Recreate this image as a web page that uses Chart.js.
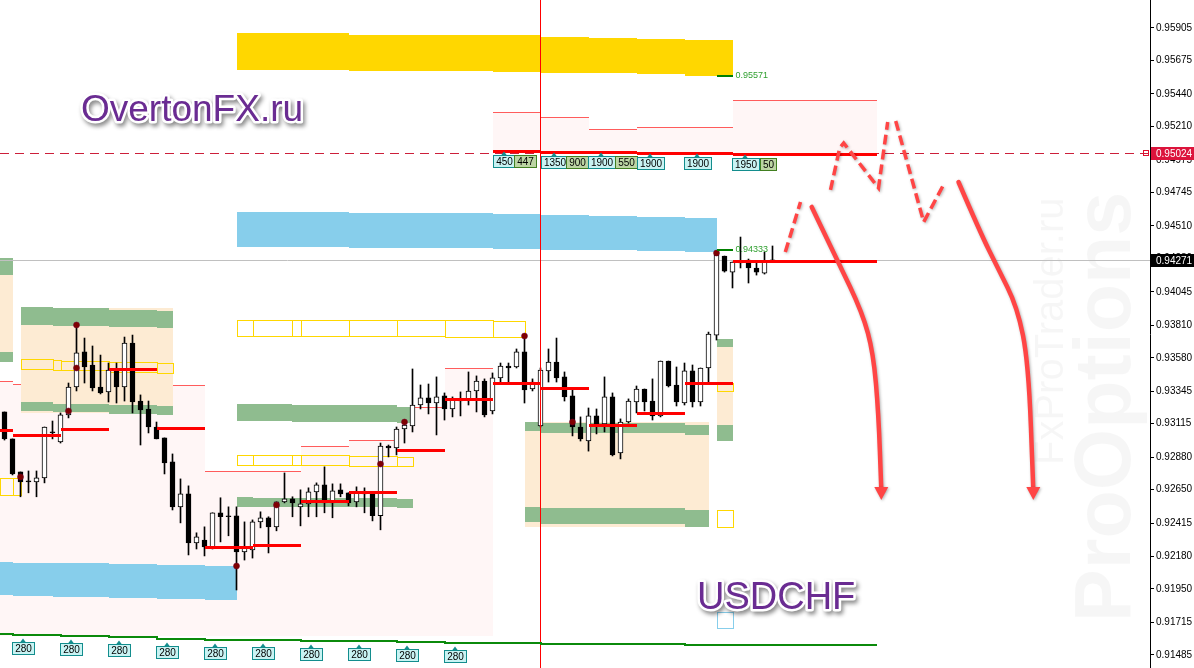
<!DOCTYPE html>
<html>
<head>
<meta charset="utf-8">
<script src="https://cdn.jsdelivr.net/npm/chart.js@4.4.1/dist/chart.umd.min.js"></script>
<style>
  html, body { margin: 0; padding: 0; background: #fff; }
  canvas { display: block; }
</style>
</head>
<body>
<canvas id="usdchf" width="1194" height="668"></canvas>
<script>
// Свечи USDCHF (open / high / low / close), индекс = номер бара
const candleOpen = [0.93198,0.93008,0.92775,0.92712,0.92705,0.92733,0.93057,0.92986,0.93177,0.93374,0.93621,0.93529,0.93374,0.93339,0.93494,0.93374,0.93684,0.93275,0.93219,0.93092,0.93015,0.92846,0.92529,0.92621,0.92274,0.92295,0.92239,0.92487,0.92466,0.92466,0.92211,0.92225,0.92423,0.92452,0.92388,0.92564,0.92586,0.92529,0.92550,0.92635,0.92684,0.92557,0.92649,0.92628,0.92564,0.92621,0.92628,0.92466,0.92958,0.92944,0.93078,0.93099,0.93247,0.93297,0.93261,0.93311,0.93219,0.93275,0.93282,0.93346,0.93416,0.93205,0.93438,0.93522,0.93515,0.93621,0.93360,0.93099,0.93487,0.93550,0.93445,0.93311,0.93092,0.92993,0.93170,0.93113,0.93304,0.92909,0.93127,0.93268,0.93360,0.93275,0.93170,0.93557,0.93388,0.93261,0.93487,0.93268,0.93508,0.93740,0.94297,0.94184,0.94255,0.94269,0.94213,0.94177,0.94255];
const candleHigh = [0.93198,0.93008,0.92775,0.92782,0.92782,0.93092,0.93134,0.93191,0.93402,0.93811,0.93719,0.93663,0.93599,0.93543,0.93543,0.93726,0.93740,0.93318,0.93275,0.93127,0.93015,0.92902,0.92726,0.92677,0.92346,0.92388,0.92487,0.92593,0.92529,0.92529,0.92423,0.92437,0.92494,0.92459,0.92564,0.92768,0.92600,0.92649,0.92663,0.92698,0.92811,0.92691,0.92691,0.92628,0.92670,0.92663,0.92628,0.92979,0.92965,0.93092,0.93141,0.93501,0.93388,0.93395,0.93445,0.93332,0.93304,0.93339,0.93480,0.93452,0.93431,0.93473,0.93543,0.93543,0.93642,0.93733,0.93431,0.93508,0.93642,0.93719,0.93480,0.93367,0.93163,0.93226,0.93219,0.93445,0.93332,0.93149,0.93290,0.93381,0.93360,0.93431,0.93557,0.93557,0.93515,0.93543,0.93529,0.93508,0.93761,0.94318,0.94297,0.94255,0.94431,0.94276,0.94248,0.94325,0.94368];
const candleLow = [0.93000,0.92754,0.92600,0.92628,0.92600,0.92698,0.93008,0.92979,0.93156,0.93346,0.93402,0.93346,0.93325,0.93268,0.93261,0.93275,0.93191,0.92965,0.93050,0.93008,0.92761,0.92507,0.92416,0.92190,0.92232,0.92183,0.92232,0.92282,0.92325,0.91943,0.92154,0.92168,0.92381,0.92204,0.92360,0.92557,0.92459,0.92395,0.92459,0.92459,0.92487,0.92452,0.92600,0.92536,0.92529,0.92487,0.92430,0.92367,0.92881,0.92895,0.92979,0.93057,0.93219,0.93184,0.93036,0.93141,0.93163,0.93170,0.93247,0.93198,0.93163,0.93184,0.93402,0.93402,0.93508,0.93261,0.93346,0.93092,0.93409,0.93409,0.93275,0.93029,0.92993,0.92922,0.93043,0.93057,0.92888,0.92867,0.93120,0.93191,0.93205,0.93141,0.93163,0.93374,0.93240,0.93247,0.93233,0.93240,0.93409,0.93705,0.94184,0.94072,0.94213,0.94107,0.94163,0.94170,0.94255];
const candleClose = [0.93008,0.92761,0.92705,0.92705,0.92733,0.93092,0.93050,0.93177,0.93374,0.93614,0.93515,0.93367,0.93332,0.93494,0.93374,0.93684,0.93268,0.93212,0.93092,0.93008,0.92839,0.92529,0.92621,0.92274,0.92318,0.92246,0.92487,0.92459,0.92459,0.92211,0.92246,0.92423,0.92452,0.92388,0.92564,0.92586,0.92557,0.92550,0.92635,0.92684,0.92557,0.92642,0.92621,0.92557,0.92628,0.92628,0.92466,0.92958,0.92944,0.93078,0.93106,0.93247,0.93297,0.93261,0.93304,0.93219,0.93282,0.93290,0.93346,0.93416,0.93177,0.93438,0.93522,0.93508,0.93621,0.93353,0.93409,0.93494,0.93550,0.93438,0.93304,0.93092,0.93008,0.93170,0.93113,0.93304,0.92895,0.93127,0.93275,0.93360,0.93268,0.93170,0.93557,0.93381,0.93268,0.93487,0.93268,0.93508,0.93747,0.94304,0.94191,0.94255,0.94248,0.94213,0.94184,0.94255,0.94271];

// шкала цен справа
const tickValues = [0.95905,0.95675,0.95440,0.95210,0.94975,0.94745,0.94510,0.94280,0.94045,0.93810,0.93580,0.93345,0.93115,0.92880,0.92650,0.92415,0.92180,0.91950,0.91715,0.91485];
const askLevel = 0.95024;
const bidLevel = 0.94271;
const sessionLine = 67;

// зоны: [от бара, до бара, верх, низ]
const goldZone = [[29,43,0.95869,0.95609],[43,61,0.95855,0.95601],[61,67,0.95855,0.95594],[67,73,0.95841,0.95587],[73,79,0.95834,0.95587],[79,85,0.95827,0.95580],[85,91,0.95820,0.95566]];
const blueZones = [[29,43,0.94607,0.94361],[43,61,0.94600,0.94354],[61,67,0.94593,0.94347],[67,73,0.94586,0.94340],[73,79,0.94579,0.94340],[79,85,0.94572,0.94333],[85,89,0.94565,0.94325],
  [-0.6,1,0.92140,0.91907],[1,6,0.92133,0.91900],[6,13,0.92133,0.91893],[13,19,0.92126,0.91886],[19,25,0.92119,0.91879],[25,29,0.92112,0.91872]];
const pinkZones = [[61,67,0.95312,0.95037],[67,73,0.95277,0.95030],[73,79,0.95193,0.95030],[79,91,0.95207,0.95023],[91,109,0.95397,0.95016],
  [-0.6,1,0.93416,0.91618],[1,7,0.93395,0.91618],[7,13,0.93409,0.91618],[13,19,0.93769,0.91618],[19,25,0.93388,0.91618],[25,37,0.92782,0.91618],[37,43,0.92958,0.91618],[43,49,0.93000,0.91618],[49,55,0.93233,0.91618],[55,61,0.93508,0.91618]];
const peachZones = [[-0.6,1,0.94283,0.93550],[2,21,0.93931,0.93191],[65,88,0.93127,0.92387],[89,91,0.93712,0.92993]];
const greenZones = [[-0.6,1,0.94283,0.94163],[-0.6,1,0.93621,0.93550],
  [2,6,0.93938,0.93811],[6,13,0.93931,0.93804],[13,19,0.93916,0.93797],[19,21,0.93909,0.93790],
  [2,6,0.93268,0.93205],[6,13,0.93254,0.93198],[13,19,0.93247,0.93184],[19,21,0.93240,0.93177],
  [29,36,0.93254,0.93134],[36,49,0.93247,0.93127],[49,51,0.93233,0.93120],
  [29,31,0.92598,0.92528],[31,49,0.92591,0.92528],[49,51,0.92584,0.92521],
  [65,67,0.93127,0.93064],[67,85,0.93120,0.93050],[85,88,0.93106,0.93036],
  [65,67,0.92528,0.92422],[67,85,0.92521,0.92408],[85,88,0.92507,0.92387],
  [89,91,0.93712,0.93656],[89,91,0.93106,0.92993]];
const yellowBoxes = [[29,31,0.93846,0.93733],[31,36,0.93846,0.93733],[36,37,0.93846,0.93733],[37,43,0.93846,0.93733],[43,49,0.93846,0.93733],[49,55,0.93846,0.93733],[55,61,0.93846,0.93726],[61,65,0.93839,0.93726],
  [29,31,0.92895,0.92824],[31,36,0.92895,0.92824],[36,37,0.92895,0.92824],[37,43,0.92895,0.92824],[43,49,0.92888,0.92817],[49,51,0.92881,0.92817],
  [2,6,0.93571,0.93501],[6,7,0.93564,0.93494],[7,13,0.93557,0.93494],[13,19,0.93550,0.93480],[19,21,0.93543,0.93473],
  [-0.6,1,0.92733,0.92612],[1,2,0.92733,0.92612],
  [89,91,0.93402,0.93346],[89,91,0.92507,0.92387]];
const skyBoxes = [[89,91,0.91787,0.91675]];

// уровни: [от, до, цена]
const pivotLevels = [[-0.6,1,0.93071],[1,7,0.93036],[7,13,0.93078],[13,19,0.93501],[19,25,0.93085],[25,31,0.92246],[31,37,0.92260],[37,43,0.92570],[43,49,0.92635],[49,55,0.92930],[55,61,0.93290],[61,67,0.93402],[67,73,0.93367],[73,79,0.93106],[79,85,0.93191],[85,91,0.93402],[91,109,0.94262]];
const upperLevels = [[61,67,0.95037],[67,79,0.95030],[79,91,0.95023],[91,109,0.95016]];
const lowerGreenLine = [[-0.6,1,0.91632],[1,7,0.91625],[7,13,0.91618],[13,19,0.91611],[19,25,0.91597],[25,31,0.91590],[31,37,0.91587],[37,43,0.91583],[43,49,0.91580],[49,55,0.91576],[55,61,0.91569],[61,67,0.91569],[67,73,0.91565],[73,79,0.91562],[79,85,0.91562],[85,91,0.91558],[91,109,0.91555]];
const markerLevels = [[89,91,0.95566,'0.95571'],[89,91,0.94340,'0.94333']];

// фракталы
const fractalPoints = [[9,0.93811],[9,0.93508],[8,0.93205],[2,0.92740],[29,0.92112],[34,0.92542],[47,0.92831],[50,0.93127],[65,0.93733],[71,0.93127],[89,0.94318]];

// метки объёмов
const volumeTags = ['450','447','1350','900','1900','550','1900','1900','1950','50'];
const volumeTagX = [62.4,65,68.7,71.6,74.6,77.7,80.7,86.6,92.6,95.4];
const volumeTagKind = ['c','g','c','g','c','g','c','c','c','g'];
const bottomTags = ['280','280','280','280','280','280','280','280','280','280'];
const bottomTagX = [2.25,8.25,14.25,20.25,26.25,32.25,38.25,44.25,50.25,56.25];

// прогноз (нарисованные от руки стрелки)
const dashedPaths = [
  [[97.6,0.94325],[99.5,0.94678]],
  [[103.25,0.94763],[104.4,0.95059],[104.9,0.95094],[109.25,0.94777],[110.4,0.95242]],
  [[111.4,0.95249],[114.9,0.94537],[117.5,0.94812]]
];
const arrowPaths = [
  [[100.9,0.94643],[104.1,0.94269],[107.25,0.93895],[108.6,0.93613],[109.25,0.93190],[109.6,0.92577]],
  [[119.25,0.94819],[122,0.94459],[124.1,0.94220],[126.6,0.93938],[128,0.93543],[128.6,0.92577]]
];

const idx = candleOpen.map((_, i) => i);

function levelAt(list, xv) {
  const s = list.find(r => xv >= r[0] && xv < r[1]);
  return s ? s[2] : list[list.length - 1][2];
}

function smoothPath(ctx, pts) {
  ctx.moveTo(pts[0][0], pts[0][1]);
  for (let i = 1; i < pts.length - 1; i++) {
    const mx = (pts[i][0] + pts[i + 1][0]) / 2;
    const my = (pts[i][1] + pts[i + 1][1]) / 2;
    ctx.quadraticCurveTo(pts[i][0], pts[i][1], mx, my);
  }
  const last = pts[pts.length - 1];
  ctx.lineTo(last[0], last[1]);
}

function drawTag(ctx, cx, top, text, kind) {
  ctx.font = '10px "Liberation Sans"';
  const w = Math.round(ctx.measureText(text).width + 5);
  const h = 12;
  const x0 = Math.round(cx - w / 2) + 0.5;
  const y0 = Math.round(top) + 0.5;
  const cyan = kind === 'c';
  ctx.fillStyle = cyan ? '#c9f3f3' : '#bcd5a3';
  ctx.strokeStyle = cyan ? '#138d8d' : '#417f20';
  ctx.lineWidth = 1;
  ctx.fillRect(x0, y0, w, h);
  ctx.strokeRect(x0, y0, w, h);
  if (cyan) {
    ctx.fillStyle = '#138d8d';
    ctx.beginPath();
    ctx.moveTo(Math.round(cx) - 3, y0);
    ctx.lineTo(Math.round(cx), y0 - 4);
    ctx.lineTo(Math.round(cx) + 3, y0);
    ctx.closePath();
    ctx.fill();
  }
  ctx.fillStyle = '#000';
  ctx.textAlign = 'center';
  ctx.textBaseline = 'middle';
  ctx.fillText(text, x0 + w / 2, y0 + h / 2 + 0.5);
}

function outlinedText(ctx, text, x, y, size) {
  ctx.save();
  ctx.font = size + 'px "Liberation Sans"';
  ctx.textAlign = 'left';
  ctx.textBaseline = 'alphabetic';
  ctx.lineJoin = 'round';
  ctx.shadowColor = 'rgba(0,0,0,0.45)';
  ctx.shadowBlur = 4;
  ctx.shadowOffsetX = 2;
  ctx.shadowOffsetY = 3;
  ctx.strokeStyle = '#fff';
  ctx.lineWidth = 5;
  ctx.strokeText(text, x, y);
  ctx.shadowColor = 'transparent';
  ctx.fillStyle = '#6a2c92';
  ctx.fillText(text, x, y);
  ctx.restore();
}

const overlay = {
  id: 'overlay',
  beforeDatasetsDraw(chart) {
    const { ctx, chartArea: a, scales: { x, y } } = chart;
    const px = v => Math.round(x.getPixelForValue(v));
    const py = v => Math.round(y.getPixelForValue(v));
    const rect = (r, fill) => {
      ctx.fillStyle = fill;
      ctx.fillRect(px(r[0]), py(r[2]), px(r[1]) - px(r[0]), py(r[3]) - py(r[2]));
    };
    const box = (r, stroke) => {
      ctx.strokeStyle = stroke;
      ctx.lineWidth = 1;
      ctx.strokeRect(px(r[0]) + 0.5, py(r[2]) + 0.5, px(r[1]) - px(r[0]), py(r[3]) - py(r[2]));
    };
    ctx.save();
    ctx.beginPath();
    ctx.rect(a.left, a.top, a.width, a.height);
    ctx.clip();

    // водяные знаки
    ctx.save();
    ctx.fillStyle = 'rgba(0,0,0,0.035)';
    ctx.textAlign = 'left';
    ctx.textBaseline = 'alphabetic';
    ctx.translate(a.right - 20, 622);
    ctx.rotate(-Math.PI / 2);
    ctx.font = 'bold 79px "Liberation Sans"';
    ctx.fillText('ProOptions', 0, 0);
    ctx.restore();
    ctx.save();
    ctx.fillStyle = 'rgba(0,0,0,0.035)';
    ctx.textAlign = 'left';
    ctx.textBaseline = 'alphabetic';
    ctx.translate(a.right - 87, 465);
    ctx.rotate(-Math.PI / 2);
    ctx.font = '40px "Liberation Sans"';
    ctx.fillText('FxProTrader.ru', 0, 0);
    ctx.restore();

    pinkZones.forEach(r => rect(r, '#fff6f6'));
    ctx.strokeStyle = '#ff5c5c';
    ctx.lineWidth = 1;
    pinkZones.forEach(r => {
      const yy = py(r[2]) + 0.5;
      ctx.beginPath();
      ctx.moveTo(px(r[0]), yy);
      ctx.lineTo(px(r[1]), yy);
      ctx.stroke();
    });
    peachZones.forEach(r => rect(r, '#fdebd3'));
    greenZones.forEach(r => rect(r, '#8fbc8f'));
    blueZones.forEach(r => rect(r, '#87ceeb'));
    goldZone.forEach(r => rect(r, '#ffd700'));
    yellowBoxes.forEach(r => box(r, '#ffd700'));
    skyBoxes.forEach(r => box(r, '#87ceeb'));

    // bid и ask
    ctx.strokeStyle = '#c0c0c0';
    ctx.beginPath();
    ctx.moveTo(a.left, py(bidLevel) + 0.5);
    ctx.lineTo(a.right, py(bidLevel) + 0.5);
    ctx.stroke();
    ctx.strokeStyle = '#cc1f3a';
    ctx.setLineDash([9, 6]);
    ctx.beginPath();
    ctx.moveTo(a.left, py(askLevel) + 0.5);
    ctx.lineTo(a.right, py(askLevel) + 0.5);
    ctx.stroke();
    ctx.setLineDash([]);
    ctx.restore();
  },
  afterDatasetsDraw(chart) {
    const { ctx, chartArea: a, scales: { x, y } } = chart;
    const px = v => x.getPixelForValue(v);
    const py = v => y.getPixelForValue(v);
    ctx.save();
    ctx.beginPath();
    ctx.rect(a.left, a.top, a.width, a.height);
    ctx.clip();

    ctx.strokeStyle = '#ff0000';
    ctx.lineWidth = 3;
    pivotLevels.concat(upperLevels).forEach(r => {
      const yy = Math.round(py(r[2])) + 0.5;
      ctx.beginPath();
      ctx.moveTo(Math.round(px(r[0])), yy);
      ctx.lineTo(Math.round(px(r[1])), yy);
      ctx.stroke();
    });

    ctx.lineWidth = 1;
    ctx.beginPath();
    ctx.moveTo(Math.floor(px(sessionLine)) + 0.5, a.top);
    ctx.lineTo(Math.floor(px(sessionLine)) + 0.5, a.bottom);
    ctx.stroke();

    // нижняя зелёная линия
    ctx.strokeStyle = '#0b8a0b';
    ctx.lineWidth = 2;
    ctx.beginPath();
    lowerGreenLine.forEach((r, i) => {
      const yy = Math.round(py(r[2]));
      if (i === 0) ctx.moveTo(Math.round(px(r[0])), yy); else ctx.lineTo(Math.round(px(r[0])), yy);
      ctx.lineTo(Math.round(px(r[1])), yy);
    });
    ctx.stroke();

    markerLevels.forEach(r => {
      const yy = Math.round(py(r[2]));
      ctx.strokeStyle = '#008000';
      ctx.lineWidth = 2;
      ctx.beginPath();
      ctx.moveTo(Math.round(px(r[0])), yy);
      ctx.lineTo(Math.round(px(r[1])), yy);
      ctx.stroke();
      ctx.fillStyle = '#2f9f2f';
      ctx.font = '9px "Liberation Sans"';
      ctx.textAlign = 'left';
      ctx.textBaseline = 'middle';
      ctx.fillText(r[3], px(r[1]) + 3, yy);
    });

    volumeTags.forEach((t, i) => {
      const yy = py(levelAt(upperLevels, volumeTagX[i]));
      drawTag(ctx, px(volumeTagX[i]), yy + 4, t, volumeTagKind[i]);
    });
    bottomTags.forEach((t, i) => {
      const yy = py(levelAt(lowerGreenLine, bottomTagX[i]));
      drawTag(ctx, px(bottomTagX[i]), yy + 7, t, 'c');
    });

    // прогноз
    ctx.shadowColor = 'rgba(0,0,0,0.3)';
    ctx.shadowBlur = 3;
    ctx.shadowOffsetX = 1;
    ctx.shadowOffsetY = 1;
    ctx.strokeStyle = '#ff4545';
    ctx.lineCap = 'butt';
    ctx.lineWidth = 3.5;
    ctx.setLineDash([10, 5]);
    dashedPaths.forEach(p => {
      ctx.beginPath();
      p.forEach((q, i) => i ? ctx.lineTo(px(q[0]), py(q[1])) : ctx.moveTo(px(q[0]), py(q[1])));
      ctx.stroke();
    });
    ctx.setLineDash([]);
    ctx.lineWidth = 4.5;
    ctx.lineCap = 'round';
    ctx.fillStyle = '#ff4545';
    arrowPaths.forEach(p => {
      const pts = p.map(q => [px(q[0]), py(q[1])]);
      const tip = pts[pts.length - 1];
      pts[pts.length - 1] = [tip[0], tip[1] - 10];
      ctx.beginPath();
      smoothPath(ctx, pts);
      ctx.stroke();
      ctx.beginPath();
      ctx.moveTo(tip[0] - 7, tip[1] - 13);
      ctx.lineTo(tip[0] + 7, tip[1] - 13);
      ctx.lineTo(tip[0], tip[1]);
      ctx.closePath();
      ctx.fill();
    });
    ctx.shadowColor = 'transparent';

    outlinedText(ctx, 'OvertonFX.ru', 81, 121, 37);
    outlinedText(ctx, 'USDCHF', 697, 609, 38);

    ctx.strokeStyle = '#e0102f';
    ctx.lineWidth = 1;
    ctx.strokeRect(a.right - 6.5, Math.round(py(askLevel)) - 2.5, 5, 5);
    ctx.restore();
  },
  afterDraw(chart) {
    const { ctx, chartArea: a, scales: { y } } = chart;
    const tag = (v, bg) => {
      const yy = Math.round(y.getPixelForValue(v));
      ctx.fillStyle = bg;
      ctx.fillRect(a.right + 1, yy - 6, chart.width - a.right - 1, 13);
      ctx.fillStyle = '#fff';
      ctx.font = '10px "Liberation Sans"';
      ctx.textAlign = 'left';
      ctx.textBaseline = 'middle';
      ctx.fillText(v.toFixed(5), a.right + 6, yy + 1);
    };
    tag(askLevel, '#dc143c');
    tag(bidLevel, '#000');
  }
};

new Chart(document.getElementById('usdchf'), {
  type: 'bar',
  data: {
    datasets: [
      {
        label: 'wick',
        data: idx.map(i => ({ x: i, y: [candleLow[i], candleHigh[i]] })),
        backgroundColor: '#000',
        borderWidth: 0,
        barThickness: 1,
        grouped: false,
        order: 3
      },
      {
        label: 'body',
        data: idx.map(i => ({ x: i, y: [candleOpen[i], candleClose[i]] })),
        backgroundColor: c => candleClose[c.dataIndex] >= candleOpen[c.dataIndex] ? '#fff' : '#000',
        borderColor: '#000',
        borderWidth: 1,
        borderSkipped: false,
        barThickness: 5,
        minBarLength: 1,
        grouped: false,
        order: 2
      },
      {
        type: 'scatter',
        label: 'fractals',
        data: fractalPoints.map(p => ({ x: p[0], y: p[1] })),
        backgroundColor: '#800000',
        borderColor: '#6a0030',
        borderWidth: 0.5,
        pointRadius: 3,
        order: 1
      }
    ]
  },
  options: {
    responsive: false,
    animation: false,
    events: [],
    layout: { autoPadding: false, padding: 0 },
    plugins: { legend: { display: false }, tooltip: { enabled: false } },
    scales: {
      x: {
        type: 'linear',
        min: -0.5625,
        max: 143.1875,
        offset: false,
        display: false
      },
      y: {
        type: 'linear',
        position: 'right',
        min: 0.91393,
        max: 0.96102,
        afterBuildTicks: s => { s.ticks = tickValues.map(v => ({ value: v })); },
        afterFit: s => { s.width = 44; s.paddingTop = 0; s.paddingBottom = 0; },
        border: { display: true, color: '#000', width: 1 },
        grid: { drawOnChartArea: false, drawTicks: true, tickLength: 4, color: '#000' },
        ticks: {
          autoSkip: false,
          padding: 2,
          color: '#000',
          font: { family: 'Liberation Sans', size: 10 },
          callback: v => v.toFixed(5)
        }
      }
    }
  },
  plugins: [overlay]
});
</script>
</body>
</html>
